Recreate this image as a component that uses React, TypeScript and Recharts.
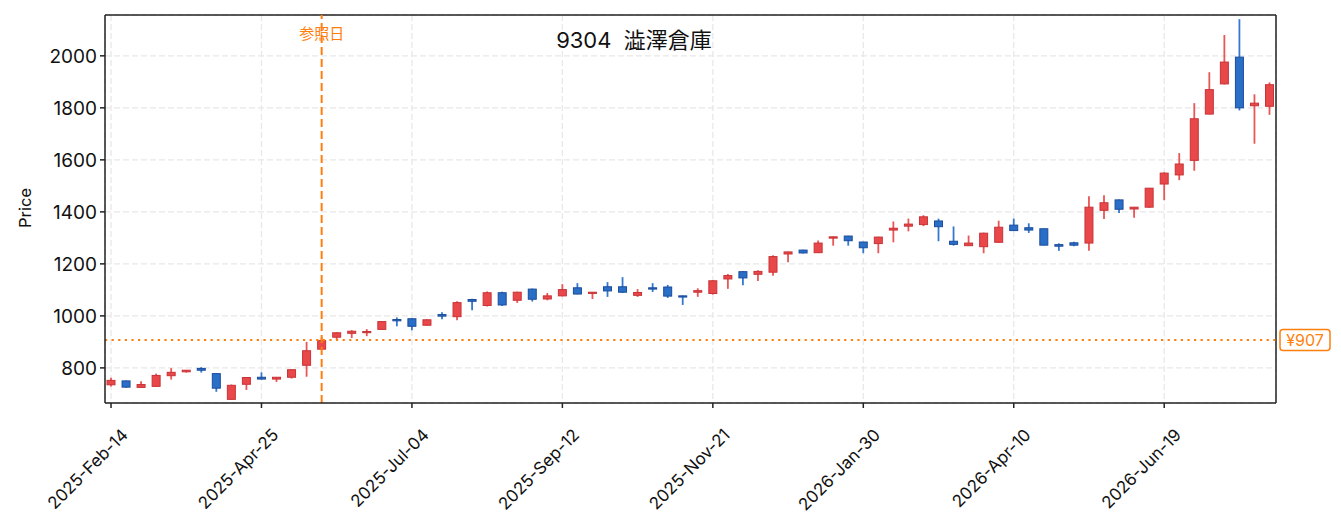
import {
  Bar,
  CartesianGrid,
  ComposedChart,
  Customized,
  ReferenceLine,
  XAxis,
  YAxis,
} from "recharts";

// weekly candles, one per Friday starting 2025-02-14
const opens = [
  735, 750, 725, 729, 770, 785, 798, 778, 679, 737, 764, 757, 764, 810, 872, 918,
  933, 936, 948, 986, 989, 964, 1005, 997, 1063, 1040, 1089, 1060, 1103, 1065,
  1077, 1108, 1087, 1112, 1112, 1079, 1108, 1111, 1077, 1091, 1086, 1142, 1170,
  1160, 1168, 1238, 1253, 1243, 1299, 1307, 1284, 1278, 1330, 1345, 1351, 1365,
  1287, 1270, 1266, 1283, 1349, 1339, 1335, 1274, 1281, 1280, 1406, 1446, 1411,
  1418, 1507, 1542, 1598, 1776, 1892, 1995, 1808, 1806,
];
const highs = [
  762, 752, 749, 778, 799, 792, 803, 780, 736, 764, 783, 765, 795, 900, 917, 937,
  945, 949, 979, 994, 991, 986, 1014, 1056, 1066, 1094, 1093, 1093, 1105, 1088,
  1122, 1126, 1091, 1130, 1149, 1103, 1126, 1119, 1078, 1106, 1137, 1161, 1172,
  1175, 1233, 1247, 1254, 1290, 1305, 1308, 1285, 1304, 1363, 1374, 1387, 1374,
  1344, 1309, 1320, 1366, 1374, 1356, 1336, 1279, 1285, 1460, 1464, 1448, 1419,
  1492, 1552, 1626, 1818, 1937, 2080, 2141, 1852, 1898,
];
const lows = [
  728, 724, 724, 728, 755, 782, 782, 708, 678, 715, 755, 746, 759, 766, 870, 907,
  915, 922, 947, 960, 945, 963, 987, 983, 1022, 1036, 1038, 1050, 1055, 1060,
  1075, 1083, 1065, 1073, 1088, 1073, 1092, 1069, 1042, 1073, 1082, 1104, 1118,
  1134, 1154, 1206, 1240, 1242, 1270, 1270, 1241, 1241, 1283, 1325, 1345, 1287,
  1270, 1269, 1241, 1281, 1327, 1319, 1271, 1250, 1268, 1250, 1373, 1396, 1377,
  1416, 1445, 1522, 1558, 1775, 1890, 1790, 1662, 1773,
];
const closes = [
  752, 726, 736, 771, 783, 791, 791, 722, 733, 763, 757, 764, 793, 866, 905, 935,
  941, 940, 978, 981, 960, 985, 999, 1051, 1056, 1089, 1042, 1091, 1064, 1077,
  1101, 1084, 1091, 1096, 1091, 1090, 1103, 1076, 1073, 1097, 1135, 1155, 1146,
  1171, 1228, 1246, 1242, 1280, 1304, 1289, 1262, 1303, 1337, 1353, 1381, 1343,
  1275, 1280, 1318, 1341, 1328, 1330, 1272, 1268, 1272, 1418, 1435, 1410, 1418,
  1491, 1549, 1584, 1758, 1870, 1976, 1800, 1818, 1889,
];

const tickWeeks = [0, 10, 20, 30, 40, 50, 60, 70];
const tickLabels = [
  "2025-Feb-14",
  "2025-Apr-25",
  "2025-Jul-04",
  "2025-Sep-12",
  "2025-Nov-21",
  "2026-Jan-30",
  "2026-Apr-10",
  "2026-Jun-19",
];
const priceTicks = [800, 1000, 1200, 1400, 1600, 1800, 2000];

const weekDomain = [-0.4, 77.43];
const priceDomain = [665, 2157];
const referenceWeek = 14;
const referencePrice = 907;
const title = "9304  澁澤倉庫";

const data = opens.map((open, i) => ({
  week: i,
  open,
  high: highs[i],
  low: lows[i],
  close: closes[i],
  range: [lows[i], highs[i]],
}));

const FONT = "Inter, 'Noto Sans CJK JP', sans-serif";
const ORANGE = "#ff7f0e";
const FRAME = "#222";

const colors = {
  up: { body: "#e8484a", edge: "#c93336", wick: "#e85656" },
  down: { body: "#2a6fc7", edge: "#1b4c9c", wick: "#3579cf" },
};

function Candle(props: any) {
  const { x, y, width, height, payload } = props;
  const { open, close, high, low } = payload;
  const c = close >= open ? colors.up : colors.down;
  const ratio = height / (high - low || 1);
  const yOf = (v: number) => y + (high - v) * ratio;
  const cx = x + width / 2;
  const top = yOf(Math.max(open, close));
  const bottom = yOf(Math.min(open, close));
  return (
    <g>
      <line x1={cx} x2={cx} y1={y} y2={y + height} stroke={c.wick} strokeWidth={1.8} />
      <rect
        x={x + 0.5}
        y={top}
        width={width - 1}
        height={Math.max(bottom - top, 1.2)}
        fill={c.body}
        stroke={c.edge}
        strokeWidth={1}
      />
    </g>
  );
}

function DateTick({ x, y, payload }: any) {
  const label = tickLabels[tickWeeks.indexOf(payload.value)];
  const ax = x + 9;
  const ay = y + 17;
  return (
    <text
      x={ax}
      y={ay}
      transform={`rotate(-45 ${ax} ${ay})`}
      textAnchor="end"
      dominantBaseline="hanging"
      fontFamily={FONT}
      fontSize={17}
      fill="#111"
    >
      {label}
    </text>
  );
}

function RefDateLabel({ viewBox }: any) {
  return (
    <text
      x={viewBox.x}
      y={viewBox.y + 24}
      textAnchor="middle"
      fontFamily={FONT}
      fontSize={15}
      fill={ORANGE}
    >
      参照日
    </text>
  );
}

function RefPriceLabel({ viewBox }: any) {
  const left = viewBox.x + viewBox.width + 4;
  return (
    <g>
      <rect
        x={left}
        y={viewBox.y - 10.5}
        width={50}
        height={21}
        rx={3}
        fill="#fff"
        stroke={ORANGE}
        strokeWidth={1.5}
      />
      <text
        x={left + 25}
        y={viewBox.y + 6}
        textAnchor="middle"
        fontFamily={FONT}
        fontSize={16}
        fill={ORANGE}
      >
        ¥{referencePrice}
      </text>
    </g>
  );
}

function Titles() {
  return (
    <g>
      <text
        x={634}
        y={48}
        textAnchor="middle"
        fontFamily={FONT}
        fontSize={22}
        fill="#111"
        style={{ whiteSpace: "pre" }}
      >
        {title}
      </text>
      <text
        x={31}
        y={208}
        transform="rotate(-90 31 208)"
        textAnchor="middle"
        fontFamily={FONT}
        fontSize={16.5}
        fill="#111"
      >
        Price
      </text>
    </g>
  );
}

export default function App() {
  return (
    <div style={{ position: "absolute", left: 0, top: 0, background: "#fff" }}>
      <ComposedChart
        width={1341}
        height={532}
        data={data}
        margin={{ top: 15, right: 65, bottom: 29, left: 45 }}
      >
        <CartesianGrid stroke="#e8e8e8" strokeDasharray="6 3" strokeWidth={1.3} />
        <XAxis
          dataKey="week"
          type="number"
          domain={weekDomain}
          ticks={tickWeeks}
          allowDataOverflow
          height={100}
          interval={0}
          tick={<DateTick />}
          tickSize={5}
          tickLine={{ stroke: FRAME, strokeWidth: 1.5 }}
          axisLine={{ stroke: FRAME, strokeWidth: 1.5 }}
        />
        <YAxis
          type="number"
          domain={priceDomain}
          ticks={priceTicks}
          allowDataOverflow
          width={60}
          interval={0}
          tickSize={5}
          tickMargin={3}
          tick={{ fontFamily: FONT, fontSize: 19, fill: "#111" }}
          tickLine={{ stroke: FRAME, strokeWidth: 1.5 }}
          axisLine={{ stroke: FRAME, strokeWidth: 1.5 }}
        />
        <ReferenceLine y={priceDomain[1]} stroke={FRAME} strokeWidth={1.5} />
        <ReferenceLine x={weekDomain[1]} stroke={FRAME} strokeWidth={1.5} />
        <ReferenceLine
          y={referencePrice}
          stroke={ORANGE}
          strokeWidth={2}
          strokeDasharray="2.2 4.4"
          label={<RefPriceLabel />}
        />
        <Bar
          dataKey="range"
          barSize={9}
          shape={<Candle />}
          isAnimationActive={false}
        />
        <ReferenceLine
          x={referenceWeek}
          stroke={ORANGE}
          strokeWidth={2}
          strokeDasharray="8 4"
          label={<RefDateLabel />}
        />
        <Customized component={<Titles />} />
      </ComposedChart>
    </div>
  );
}
